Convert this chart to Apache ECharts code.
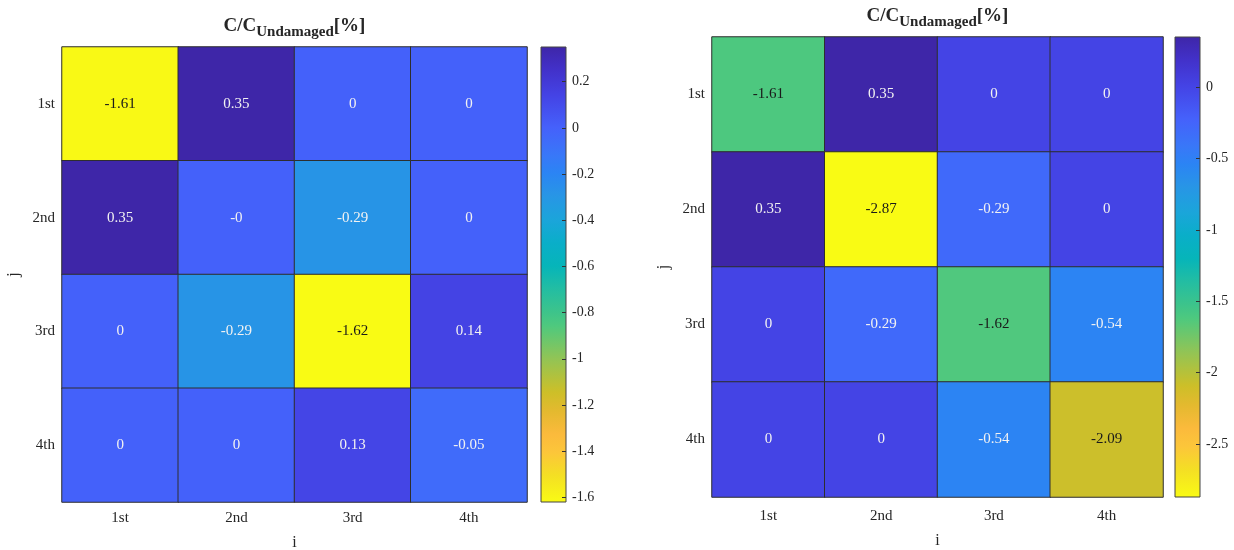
<!DOCTYPE html>
<html>
<head>
<meta charset="utf-8">
<script src="https://cdn.jsdelivr.net/npm/echarts@6/dist/echarts.min.js"></script>
<style>
html,body{margin:0;padding:0;background:#fff;}
#chart{width:1234px;height:550px;}
</style>
</head>
<body>
<div id="chart"></div>
<script>
// ---- data ----
const categories = ['1st', '2nd', '3rd', '4th'];
// rows = j (1st..4th), columns = i (1st..4th)
const leftRow1 = [-1.61, 0.35, 0, 0];
const leftRow2 = [0.35, -0.001, -0.29, 0];
const leftRow3 = [0, -0.29, -1.62, 0.14];
const leftRow4 = [0, 0, 0.13, -0.05];
const rightRow1 = [-1.61, 0.35, 0, 0];
const rightRow2 = [0.35, -2.87, -0.29, 0];
const rightRow3 = [0, -0.29, -1.62, -0.54];
const rightRow4 = [0, 0, -0.54, -2.09];
const leftTicks = [0.2, 0, -0.2, -0.4, -0.6, -0.8, -1, -1.2, -1.4, -1.6];
const rightTicks = [0, -0.5, -1, -1.5, -2, -2.5];
const titleText = '{a|C/C}{b|Undamaged}{a|[%]}';

const leftMatrix = [leftRow1, leftRow2, leftRow3, leftRow4];
const rightMatrix = [rightRow1, rightRow2, rightRow3, rightRow4];

// ---- colormap (parula, reversed: max -> purple, min -> yellow) ----
const stops = [
  [0.000, '#3e26a8'], [0.050, '#4231c9'], [0.107, '#4443e5'], [0.178, '#4561fb'],
  [0.240, '#3878f8'], [0.277, '#2b84f4'], [0.325, '#2895e6'], [0.381, '#1ba5da'],
  [0.430, '#0aaec9'], [0.482, '#06b5b9'], [0.530, '#22bda3'], [0.584, '#3ec48a'],
  [0.612, '#4ec97e'], [0.685, '#92c455'], [0.758, '#cdbf28'], [0.800, '#e4b92f'],
  [0.850, '#fbba3c'], [0.890, '#fcc63a'], [0.940, '#f4df24'], [1.000, '#f9fb14']
];
function hex2rgb(h){return [parseInt(h.substr(1,2),16),parseInt(h.substr(3,2),16),parseInt(h.substr(5,2),16)];}
function colorAt(p){
  p = Math.max(0, Math.min(1, p));
  for (let k = 1; k < stops.length; k++) {
    if (p <= stops[k][0]) {
      const a = stops[k-1], b = stops[k];
      const t = (p - a[0]) / (b[0] - a[0]);
      const ca = hex2rgb(a[1]), cb = hex2rgb(b[1]);
      const c = ca.map((v, i) => Math.round(v + (cb[i] - v) * t));
      return 'rgb(' + c.join(',') + ')';
    }
  }
  return stops[stops.length-1][1];
}
const N = 64;
const vmColors = [];
for (let k = 0; k < N; k++) vmColors.push(colorAt(1 - k / (N - 1)));
const gradient = {
  type: 'linear', x: 0, y: 0, x2: 0, y2: 1,
  colorStops: stops.map(s => ({offset: s[0], color: s[1]}))
};

function fmt(v){
  const r = Math.round(v * 100) / 100;
  if (r === 0) return v < 0 ? '-0' : '0';
  return String(r);
}
function buildData(m, mn, mx){
  const out = [];
  m.forEach((row, j) => row.forEach((v, i) => {
    const p = (mx - v) / (mx - mn);
    out.push({value: [i, j, v], label: {color: p > 0.5 ? '#1a1a1a' : '#f2f2f2'}});
  }));
  return out;
}
const lMin = Math.min(...leftMatrix.flat()), lMax = Math.max(...leftMatrix.flat());
const rMin = Math.min(...rightMatrix.flat()), rMax = Math.max(...rightMatrix.flat());

const FONT = 'Liberation Serif';
const TXT = '#262626';

const catX = (gi, margin, gap) => ({
  type: 'category', gridIndex: gi, data: categories,
  axisLine: {show: false}, axisTick: {show: false}, splitArea: {show: false},
  axisLabel: {fontFamily: FONT, fontSize: 15, color: TXT, margin: margin},
  name: 'i', nameLocation: 'middle', nameGap: gap,
  nameTextStyle: {fontFamily: FONT, fontSize: 16, color: TXT}
});
const catY = (gi) => ({
  type: 'category', gridIndex: gi, data: categories, inverse: true,
  axisLine: {show: false}, axisTick: {show: false}, splitArea: {show: false},
  axisLabel: {fontFamily: FONT, fontSize: 15, color: TXT, margin: 7},
  name: 'j', nameLocation: 'middle', nameGap: 40, nameRotate: 90,
  nameTextStyle: {fontFamily: FONT, fontSize: 16, color: TXT}
});
const cbX = (gi) => ({type: 'value', gridIndex: gi, min: 0, max: 1, show: false});
const cbY = (gi, mn, mx, ticks) => ({
  type: 'value', gridIndex: gi, min: mn, max: mx, position: 'right',
  axisLine: {show: false, onZero: false}, splitLine: {show: false},
  axisTick: {show: true, inside: true, length: 4, customValues: ticks, lineStyle: {color: '#333'}},
  axisLabel: {fontFamily: FONT, fontSize: 14, color: TXT, margin: 6, customValues: ticks,
    formatter: v => String(Math.round(v * 10) / 10)}
});

const richTitle = {
  a: {fontFamily: FONT, fontSize: 19, fontWeight: 'bold', fill: TXT, color: TXT, verticalAlign: 'top'},
  b: {fontFamily: FONT, fontSize: 15, fontWeight: 'bold', fill: TXT, color: TXT, verticalAlign: 'top', padding: [8, 0, 0, 0]}
};

const option = {
  animation: false,
  backgroundColor: '#ffffff',
  grid: [
    {left: 62, top: 47, width: 465, height: 455, outerBoundsMode: 'none'},
    {left: 541, top: 47, width: 25, height: 455, outerBoundsMode: 'none', show: true, backgroundColor: gradient, borderColor: '#444', borderWidth: 1},
    {left: 712, top: 37, width: 451, height: 460, outerBoundsMode: 'none'},
    {left: 1175, top: 37, width: 25, height: 460, outerBoundsMode: 'none', show: true, backgroundColor: gradient, borderColor: '#444', borderWidth: 1}
  ],
  xAxis: [catX(0, 9, 33), cbX(1), catX(2, 12, 36), cbX(3)],
  yAxis: [catY(0), cbY(1, lMin, lMax, leftTicks), catY(2), cbY(3, rMin, rMax, rightTicks)],
  visualMap: [
    {type: 'continuous', show: false, seriesIndex: 0, min: lMin, max: lMax, inRange: {color: vmColors}},
    {type: 'continuous', show: false, seriesIndex: 1, min: rMin, max: rMax, inRange: {color: vmColors}}
  ],
  graphic: [
    {type: 'text', x: 294.5, y: 17, style: {text: titleText, align: 'center', verticalAlign: 'top', rich: richTitle}},
    {type: 'text', x: 937.5, y: 7, style: {text: titleText, align: 'center', verticalAlign: 'top', rich: richTitle}}
  ],
  series: [
    {type: 'heatmap', xAxisIndex: 0, yAxisIndex: 0, data: buildData(leftMatrix, lMin, lMax),
     itemStyle: {borderColor: '#2e2e2e', borderWidth: 1},
     label: {show: true, fontFamily: FONT, fontSize: 15, formatter: p => fmt(p.value[2])},
     emphasis: {disabled: true}},
    {type: 'heatmap', xAxisIndex: 2, yAxisIndex: 2, data: buildData(rightMatrix, rMin, rMax),
     itemStyle: {borderColor: '#2e2e2e', borderWidth: 1},
     label: {show: true, fontFamily: FONT, fontSize: 15, formatter: p => fmt(p.value[2])},
     emphasis: {disabled: true}}
  ]
};
const chart = echarts.init(document.getElementById('chart'), null, {renderer: 'canvas'});
chart.setOption(option);
</script>
</body>
</html>
